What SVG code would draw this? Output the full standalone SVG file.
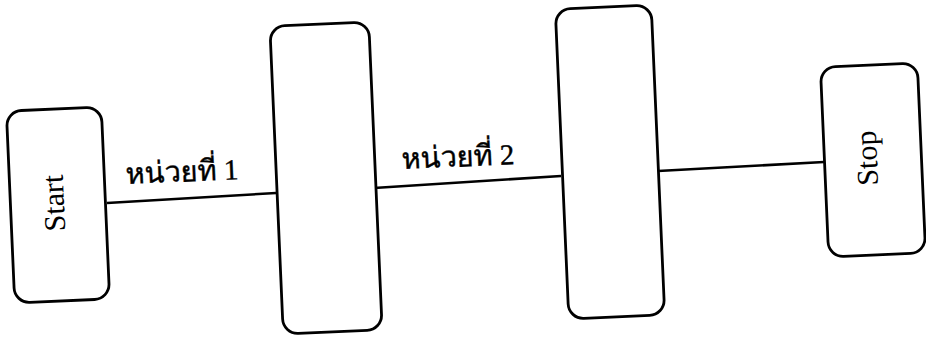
<svg xmlns="http://www.w3.org/2000/svg" width="926" height="337" viewBox="0 0 926 337">
<style>
.box{fill:#fff;stroke:#000;stroke-width:2.8}
.conn{stroke:#000;stroke-width:2.6;fill:none}
.lbl{font-family:"Liberation Serif","DejaVu Serif",serif;font-size:30px;fill:#000}
.th{font-family:"Liberation Serif","DejaVu Serif","Noto Serif",serif;font-size:29px;fill:#000;stroke:#000;stroke-width:0.4}
</style>
<rect width="926" height="337" fill="#fff"/>
<g id="connectors">
<line class="conn" x1="107" y1="203" x2="276" y2="193"/>
<line class="conn" x1="374" y1="188" x2="561" y2="176"/>
<line class="conn" x1="658" y1="171" x2="824" y2="162"/>
</g>
<g id="start" transform="rotate(-2.5 58 205)">
<rect class="box" x="10.5" y="109" width="95" height="192" rx="15"/>
<text class="lbl" transform="translate(64 203) rotate(-90)" text-anchor="middle">Start</text>
</g>
<g id="unit1" transform="rotate(-2.5 326 178)">
<rect class="box" x="276.5" y="24" width="99" height="308" rx="15"/>
</g>
<g id="unit2" transform="rotate(-2.5 610 162)">
<rect class="box" x="562" y="7" width="96" height="310" rx="15"/>
</g>
<g id="stop" transform="rotate(-2.5 873 160)">
<rect class="box" x="824.5" y="65" width="97" height="190" rx="15"/>
<text class="lbl" transform="translate(877 158) rotate(-90)" text-anchor="middle">Stop</text>
</g>
<g id="labels">
<text class="th" transform="translate(126 184) rotate(-2.5)">หน่วยที่ 1</text>
<text class="th" transform="translate(402 169) rotate(-2.5)">หน่วยที่ 2</text>
</g>
</svg>
